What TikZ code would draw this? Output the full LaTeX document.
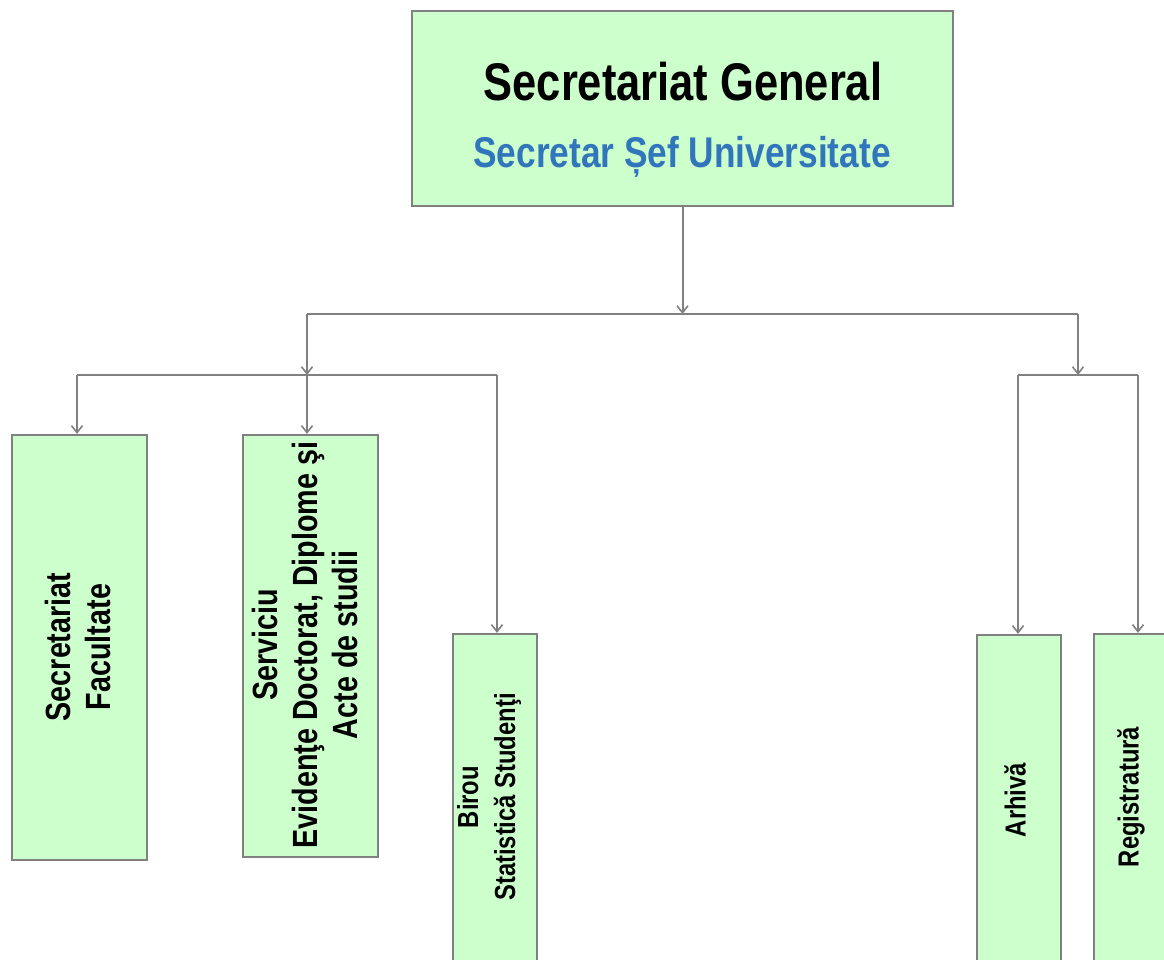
\documentclass[tikz,border=0pt]{standalone}
\usepackage{fontspec}
\setmainfont{Liberation Sans}[FakeStretch=0.82]
\usetikzlibrary{arrows.meta}
\definecolor{boxfill}{HTML}{CCFFCC}
\definecolor{edgegray}{HTML}{808080}
\definecolor{subblue}{HTML}{3176BC}
\begin{document}
\begin{tikzpicture}[x=1pt,y=-1pt,
  unitbox/.style={draw=edgegray, line width=2.2pt, fill=boxfill, inner sep=0pt, rectangle},
  link/.style={draw=edgegray, line width=2pt},
  arr/.style={link, -{Straight Barb[length=7pt,width=11pt,line width=1.6pt]}},
  vtext/.style={rotate=90, align=center, inner sep=0pt, font=\bfseries\fontsize{35}{40}\selectfont}]
\useasboundingbox (0,0) rectangle (1164,959);
\clip (0,0) rectangle (1164,959);

% boxes
\node[unitbox, minimum width=541pt, minimum height=195pt] (top) at (682.5,108.5) {};
\node[unitbox, minimum width=135pt, minimum height=425pt] (b1) at (79.5,647.5) {};
\node[unitbox, minimum width=135pt, minimum height=422pt] (b2) at (310.5,646) {};
\node[unitbox, minimum width=84pt, minimum height=366pt] (b3) at (495,817) {};
\node[unitbox, minimum width=84pt, minimum height=365pt] (b4) at (1019,817.5) {};
\node[unitbox, minimum width=84pt, minimum height=366pt] (b5) at (1136,817) {};

% texts
\node[anchor=base, inner sep=0pt, font=\bfseries\fontsize{53}{60}\selectfont] (t1) at (683,100) {Secretariat General};
\node[anchor=base, inner sep=0pt, text=subblue, font=\bfseries\fontsize{43}{50}\selectfont] (t2) at (682,167) {Secretar Șef Universitate};
\node[vtext] (x1) at (78,647) {Secretariat\\Facultate};
\node[vtext] (x2) at (305,645) {Serviciu\\Evidenţe Doctorat, Diplome şi\\Acte de studii};
\node[vtext, font=\bfseries\fontsize{29}{37}\selectfont] (x3) at (489,797) {Birou\\Statistică Studenţi};
\node[vtext, font=\bfseries\fontsize{29}{34}\selectfont] (x4) at (1015,800) {Arhivă};
\node[vtext, font=\bfseries\fontsize{29}{34}\selectfont] (x5) at (1131,797) {Registratură};

% junctions
\coordinate (jt) at (682.5,314);
\coordinate (jl) at (307,314);
\coordinate (jr) at (1078,314);
\coordinate (kl) at (307,375);
\coordinate (kr) at (1078,375);
\coordinate (kl1) at (77,375);
\coordinate (kl3) at (497,375);
\coordinate (kr1) at (1018,375);
\coordinate (kr2) at (1138,375);

% connectors
\draw[arr] (top.south) -- (jt);
\draw[link] (jl) -- (jr);
\draw[arr] (jl) -- (kl);
\draw[arr] (jr) -- (kr);
\draw[link] (kl1) -- (kl3);
\draw[link] (kr1) -- (kr2);
\draw[arr] (kl1) -- (kl1 |- b1.north);
\draw[arr] (kl) -- (kl |- b2.north);
\draw[arr] (kl3) -- (kl3 |- b3.north);
\draw[arr] (kr1) -- (kr1 |- b4.north);
\draw[arr] (kr2) -- (kr2 |- b5.north);
\end{tikzpicture}
\end{document}
